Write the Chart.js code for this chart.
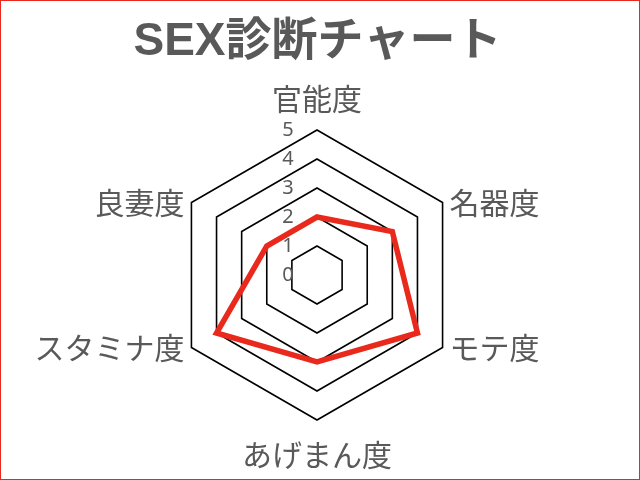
<!DOCTYPE html>
<html>
<head>
<meta charset="utf-8">
<script src="https://cdn.jsdelivr.net/npm/chart.js@4"></script>
<style>
  html, body { margin: 0; padding: 0; background: #fff; }
  #wrap { width: 640px; height: 480px; box-sizing: border-box; border: 1px solid #e8291c; }
  canvas { display: block; }
</style>
</head>
<body>
<div id="wrap"><canvas id="grafico" width="638" height="478"></canvas></div>
<script>
const categorias = ['官能度', '名器度', 'モテ度', 'あげまん度', 'スタミナ度', '良妻度'];
const valores = [2, 3, 4, 3, 4, 2];
const escala = [0, 1, 2, 3, 4, 5];

const gris = '#595959';
const fuenteJP = '"Noto Sans CJK JP", "Noto Sans", sans-serif';

// tick numbers sit left of the vertical axis, axis names centred on the vertices
const etiquetas = {
  id: 'etiquetas',
  afterDraw(chart) {
    const r = chart.scales.r;
    const ctx = chart.ctx;
    ctx.save();
    ctx.fillStyle = gris;
    ctx.textBaseline = 'middle';

    ctx.font = '20px "Noto Sans", sans-serif';
    ctx.textAlign = 'center';
    r.ticks.forEach(t => {
      const p = r.getPointPositionForValue(0, t.value);
      ctx.fillText(t.label, p.x - 29, p.y);
    });

    ctx.font = '30px ' + fuenteJP;
    categorias.forEach((nombre, i) => {
      const p = r.getPointPositionForValue(i, r.max);
      const a = r.getIndexAngle(i);
      const s = Math.sin(a), c = Math.cos(a);
      let x = p.x, y = p.y;
      if (s > 0.1) { ctx.textAlign = 'left'; x += 7; }
      else if (s < -0.1) { ctx.textAlign = 'right'; x -= 7; }
      else { ctx.textAlign = 'center'; y += c > 0 ? -31 : 35; }
      ctx.fillText(nombre, x, y);
    });
    ctx.restore();
  }
};

new Chart(document.getElementById('grafico'), {
  type: 'radar',
  data: {
    labels: categorias,
    datasets: [{
      data: valores,
      borderColor: '#e8291c',
      borderWidth: 5.5,
      borderJoinStyle: 'miter',
      fill: false,
      pointRadius: 0,
      tension: 0
    }]
  },
  options: {
    responsive: false,
    animation: false,
    layout: { padding: { left: 0, right: 5, top: 0, bottom: 58 } },
    plugins: {
      legend: { display: false },
      tooltip: { enabled: false },
      title: {
        display: true,
        text: 'SEX診断チャート',
        color: gris,
        font: { family: '"Liberation Sans", ' + fuenteJP, size: 46, weight: 'bold', lineHeight: 1.2 },
        padding: { top: 14, bottom: 59 }
      }
    },
    scales: {
      r: {
        min: escala[0],
        max: escala[escala.length - 1],
        afterBuildTicks: s => { s.ticks = escala.map(v => ({ value: v, label: String(v) })); },
        ticks: { display: false },
        pointLabels: { display: false },
        angleLines: { display: false },
        grid: { color: '#000', lineWidth: 1.6 }
      }
    }
  },
  plugins: [etiquetas]
});
</script>
</body>
</html>
